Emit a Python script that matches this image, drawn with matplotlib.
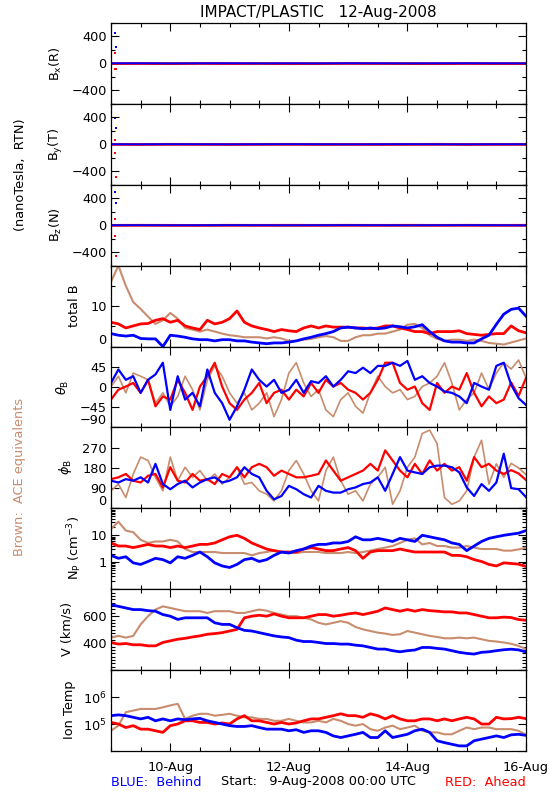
import numpy as np
import matplotlib.pyplot as plt
from matplotlib.ticker import MultipleLocator, FixedLocator, LogLocator, NullFormatter

BLUE = '#0000ff'
RED = '#ff0000'
BROWN = '#c88c6e'

# time axis: hours after 9-Aug-2008 00:00, 3-hourly samples
hours = np.arange(0, 169, 3)
hours12 = np.arange(0, 169, 12)

# B components (nT), flat near zero apart from a few spikes at the start
bx_blue = [2, 3, 1, 2, 3, 1, 2, 1, 3, 2, 1, 2, 3, 2, 1]
bx_red = [-2, -1, -3, 0, -2, -1, -3, -2, 0, -1, -2, -3, -1, -2, -2]
by_blue = [1, 0, 2, 1, 0, 1, 2, 1, 0, 1, 2, 1, 0, 1, 1]
by_red = [-1, -2, 0, -1, -2, -1, 0, -2, -1, -2, -1, 0, -2, -1, -1]
bz_blue = [0, 1, -1, 0, 1, 0, -1, 0, 1, 0, -1, 0, 1, 0, -2]
bz_red = [-2, -1, -2, -3, -1, -2, -1, -2, -1, -2, -1, -2, -1, -2, -1]
spike_t_blue = [1.6, 1.9]
spike_t_red = [1.5, 1.8, 2.1]
bx_spike_blue = [450, 250]
bx_spike_red = [150, -80, -80]
by_spike_blue = [390, 240]
by_spike_red = [65, -130, -480]
bz_spike_blue = [500, 330]
bz_spike_red = [85, -165, -460]

# total B (nT)
btot_blue = [3.2, 2.8, 2.6, 2.8, 2.0, 1.9, 1.9, 0.0, 2.8, 2.6,
             2.3, 1.9, 1.7, 1.7, 1.4, 1.7, 1.7, 1.4, 1.4, 1.1,
             0.9, 0.7, 0.9, 0.9, 1.1, 1.4, 1.9, 2.3, 2.8, 3.2,
             3.7, 4.6, 4.8, 4.6, 4.4, 4.6, 4.4, 4.6, 5.1, 4.9,
             4.6, 4.9, 5.4, 3.7, 2.3, 1.4, 1.1, 1.1, 0.9, 0.9,
             1.9, 2.8, 5.5, 8.0, 9.2, 9.5, 7.5]
btot_red = [6.0, 5.6, 4.6, 5.1, 5.6, 5.7, 6.5, 6.9, 6.0, 6.5,
            5.1, 4.6, 4.2, 6.5, 5.6, 6.0, 6.9, 8.8, 6.0, 5.1,
            4.6, 4.2, 3.7, 4.2, 3.9, 3.7, 4.6, 5.1, 4.6, 5.1,
            4.8, 4.8, 4.8, 4.6, 4.6, 4.4, 4.6, 5.1, 5.1, 4.6,
            4.2, 3.7, 3.7, 3.2, 3.7, 3.7, 3.7, 3.9, 3.2, 3.0,
            2.8, 3.0, 3.2, 3.2, 5.1, 3.9, 3.4]
btot_brown = [16, 20, 15, 11, 9.3, 7.4, 5.6, 6.5, 8.3, 6.9,
              4.6, 4.2, 3.7, 4.2, 3.7, 3.2, 2.8, 2.6, 2.3, 2.3,
              2.3, 2.0, 2.3, 2.0, 1.4, 1.4, 1.7, 1.9, 2.3, 2.6,
              2.3, 1.4, 1.4, 2.3, 2.8, 2.8, 3.2, 3.2, 3.7, 4.2,
              5.4, 5.6, 4.6, 2.8, 1.9, 1.4, 1.7, 1.7, 1.4, 1.7,
              1.4, 0.9, 0.7, 0.5, 1.0, 1.5, 2.0]

# theta_B (deg)
theta_blue = [9, 39, 16, 24, -13, 16, 28, 54, -51, 24,
              -28, -13, -43, 39, -13, -36, -73, -43, -6, 39,
              16, 1, 16, -13, -6, 16, -13, 13, 9, 24,
              1, 16, 35, 31, 43, 31, 47, 47, 54, 47,
              58, 16, 24, 9, 1, -10, -13, -21, -36, 9,
              1, -6, 47, 54, 5, -25, -40]
theta_red = [-28, -6, 1, 9, -13, 16, -43, -21, -28, 16,
             -13, -51, 1, 24, 54, 1, -36, -51, -28, -13,
             9, -36, -13, -6, -28, -6, -21, 9, -13, 16,
             1, 9, -6, -13, -28, -13, 16, 54, 54, 9,
             -6, 1, -36, -51, 9, -13, 1, -6, 31, -13,
             -43, -21, -36, -28, 10, -20, 20]
theta_brown = [1, 24, -13, 31, 24, 16, -36, -13, -43, -21,
               24, -6, -51, 16, 47, 24, -13, -36, -13, -51,
               -36, -13, -66, -28, 31, 54, 9, -21, -6, -51,
               -66, -28, -13, -43, -58, -13, 24, 1, -13, -6,
               -28, -21, 1, 9, 24, 54, 9, -51, -28, -13,
               31, -6, 31, 54, 40, 60, 20]

# phi_B (deg)
phi_blue = [123, 115, 130, 123, 138, 115, 198, 108, 85, 108,
            123, 93, 115, 130, 138, 115, 123, 138, 183, 153,
            138, 78, 40, 55, 100, 85, 63, 48, 100, 78,
            70, 70, 85, 93, 108, 115, 138, 78, 153, 228,
            168, 160, 153, 183, 190, 190, 183, 160, 93, 55,
            108, 78, 115, 243, 90, 85, 50]
phi_red = [130, 138, 153, 123, 115, 145, 153, 93, 183, 123,
           115, 153, 123, 130, 108, 153, 138, 183, 138, 183,
           198, 183, 145, 168, 153, 138, 138, 145, 153, 213,
           168, 123, 138, 153, 168, 198, 168, 258, 213, 168,
           138, 198, 153, 213, 168, 198, 168, 183, 123, 228,
           183, 198, 168, 153, 170, 155, 126]
phi_brown = [78, 108, 48, 153, 228, 213, 138, 78, 228, 123,
             183, 138, 168, 123, 153, 108, 138, 183, 108, 115,
             78, 63, 33, 78, 168, 213, 153, 78, 33, 168,
             228, 123, 63, 78, 33, 108, 138, 183, 18, 78,
             183, 228, 333, 348, 288, 48, 18, 33, 78, 228,
             303, 108, 198, 138, 200, 180, 150]

# proton density (cm^-3)
np_blue = [1.8, 1.4, 1.6, 0.95, 0.83, 1.07, 1.4, 1.25, 0.95, 1.6,
           1.4, 1.8, 2.4, 1.6, 0.95, 0.73, 0.64, 0.83, 1.25, 1.4,
           1.07, 1.25, 1.8, 2.4, 2.2, 2.7, 3.1, 4.0, 4.6, 4.6,
           5.2, 5.2, 5.9, 8.8, 6.8, 6.8, 7.7, 6.8, 5.9, 7.7,
           6.8, 5.9, 10, 8.8, 7.7, 6.8, 5.2, 4.6, 2.7, 4.0,
           5.9, 7.7, 8.8, 10, 11, 12, 15]
np_red = [5.2, 4.0, 4.0, 3.5, 4.0, 4.6, 4.0, 4.0, 3.5, 4.0,
          3.5, 4.0, 4.6, 4.6, 5.2, 6.8, 8.8, 10, 7.7, 5.2,
          4.0, 3.1, 2.7, 2.4, 2.4, 2.4, 3.1, 3.5, 3.1, 2.7,
          2.7, 3.1, 3.5, 2.7, 1.4, 2.4, 2.7, 2.7, 2.7, 3.1,
          2.7, 2.4, 2.4, 2.4, 2.4, 2.4, 1.8, 1.8, 1.6, 1.25,
          1.07, 0.83, 0.73, 0.95, 0.9, 0.85, 0.7]
np_brown = [17, 32, 15, 13, 6.8, 5.2, 5.9, 5.9, 6.8, 5.9,
            3.1, 2.4, 2.4, 2.4, 2.4, 2.2, 2.2, 2.2, 2.2, 1.8,
            2.2, 2.4, 2.7, 2.4, 2.2, 2.2, 2.4, 2.4, 2.4, 2.2,
            2.2, 2.2, 2.4, 2.2, 2.4, 2.7, 3.1, 3.5, 4.0, 5.2,
            6.8, 7.7, 4.6, 5.2, 4.0, 4.0, 3.5, 3.5, 4.0, 3.5,
            3.1, 3.1, 3.1, 2.7, 2.7, 3.0, 3.5]

# bulk speed (km/s)
v_blue = [685, 673, 661, 649, 649, 641, 637, 612, 600, 576,
          588, 588, 588, 588, 551, 539, 539, 515, 495, 490,
          478, 466, 454, 446, 441, 422, 412, 412, 405, 397,
          397, 393, 393, 385, 380, 368, 356, 356, 344, 336,
          344, 349, 368, 368, 361, 356, 344, 332, 324, 319,
          332, 336, 344, 351, 355, 350, 335]
v_red = [405, 393, 397, 388, 388, 380, 380, 405, 417, 429,
         436, 446, 454, 466, 471, 478, 490, 502, 588, 600,
         607, 600, 617, 600, 588, 588, 588, 600, 612, 612,
         600, 607, 617, 624, 612, 624, 637, 661, 649, 637,
         649, 637, 649, 641, 637, 632, 632, 624, 624, 612,
         600, 588, 588, 593, 590, 575, 570]
v_brown = [441, 454, 441, 454, 539, 600, 649, 673, 661, 649,
           637, 637, 637, 624, 637, 637, 637, 624, 624, 637,
           649, 641, 624, 612, 600, 600, 588, 576, 551, 539,
           551, 563, 551, 520, 502, 490, 478, 471, 461, 466,
           490, 478, 466, 454, 446, 436, 436, 441, 436, 441,
           429, 417, 412, 405, 395, 380, 355]

# ion temperature, log10(K)
temp_blue_log = [5.31, 5.34, 5.31, 5.25, 5.19, 5.25, 5.12, 5.19, 5.12, 5.19,
                 5.16, 5.19, 5.21, 5.12, 5.06, 5.0, 4.94, 4.91, 4.91, 4.94,
                 4.87, 4.81, 4.81, 4.81, 4.75, 4.79, 4.69, 4.75, 4.75, 4.69,
                 4.56, 4.5, 4.56, 4.62, 4.69, 4.5, 4.5, 4.75, 4.5, 4.56,
                 4.62, 4.75, 4.81, 4.69, 4.38, 4.31, 4.25, 4.19, 4.19, 4.38,
                 4.44, 4.5, 4.56, 4.5, 4.6, 4.62, 4.58]
temp_red_log = [5.06, 5.0, 4.87, 4.94, 4.81, 4.81, 4.75, 4.69, 4.94, 5.0,
                5.12, 5.12, 5.06, 5.06, 5.0, 5.04, 5.0, 5.19, 5.31, 5.12,
                5.12, 5.06, 5.0, 5.06, 5.0, 5.04, 5.12, 5.19, 5.19, 5.25,
                5.31, 5.38, 5.31, 5.31, 5.25, 5.38, 5.31, 5.19, 5.31, 5.19,
                5.12, 5.12, 5.19, 5.19, 5.12, 5.19, 5.12, 5.19, 5.25, 5.19,
                5.0, 5.0, 5.25, 5.19, 5.2, 5.25, 5.2]
temp_brown_log = [4.75, 4.94, 5.44, 5.5, 5.56, 5.56, 5.56, 5.62, 5.69, 5.75,
                  5.19, 5.31, 5.38, 5.38, 5.31, 5.34, 5.38, 5.31, 5.25, 5.25,
                  5.19, 5.19, 5.12, 5.12, 5.19, 5.12, 5.06, 5.06, 5.12, 5.06,
                  5.19, 5.12, 5.0, 4.94, 5.0, 4.81, 4.75, 4.87, 4.94, 4.81,
                  4.87, 4.94, 4.75, 4.69, 4.69, 4.62, 4.62, 4.75, 4.87, 4.81,
                  4.87, 4.87, 4.81, 4.81, 4.81, 4.75, 4.6]

date_ticks = [24, 72, 120, 168]
date_labels = ['10-Aug', '12-Aug', '14-Aug', '16-Aug']

W, H = 550, 800
fig, axes = plt.subplots(9, 1, sharex=True, figsize=(W / 100, H / 100), dpi=100)
fig.subplots_adjust(left=111 / W, right=526 / W, top=1 - 23 / H, bottom=1 - 751 / H, hspace=0)

FS = 9.3


def style(ax):
    ax.set_xlim(0, 168)
    ax.xaxis.set_major_locator(FixedLocator(date_ticks))
    ax.xaxis.set_minor_locator(MultipleLocator(12))
    ax.tick_params(which='both', direction='in', top=True, right=True, labelsize=FS, width=0.8)
    ax.tick_params(which='major', length=6)
    ax.tick_params(which='minor', length=3)
    ax.tick_params(axis='y', pad=3)
    ax.tick_params(axis='x', pad=7)
    for s in ax.spines.values():
        s.set_linewidth(0.9)


def trio(ax, t, brown, red, blue, lw=2.0):
    ax.plot(t, brown, color=BROWN, lw=lw * 0.75)
    ax.plot(t, red, color=RED, lw=lw)
    ax.plot(t, blue, color=BLUE, lw=lw)


def bottom_label_up(ax):
    # the lowest tick label sits just above the bottom edge
    ax.figure.canvas.draw()
    ax.get_yticklabels()[0].set_verticalalignment('bottom')


# --- B components ---
comps = [(bx_blue, bx_red, bx_spike_blue, bx_spike_red),
         (by_blue, by_red, by_spike_blue, by_spike_red),
         (bz_blue, bz_red, bz_spike_blue, bz_spike_red)]
for ax, (cb, cr, sb, sr) in zip(axes[:3], comps):
    style(ax)
    ax.plot(hours12, cr, color=RED, lw=2.0)
    ax.plot(hours12, cb, color=BLUE, lw=1.4)
    ax.scatter(spike_t_red, sr, color=RED, s=2, marker='s', lw=0)
    ax.scatter(spike_t_blue, sb, color=BLUE, s=2, marker='s', lw=0)
    ax.set_ylim(-600, 600)
    ax.set_yticks([-400, 0, 400], ['\u2212400', '0', '400'])
    ax.yaxis.set_minor_locator(MultipleLocator(200))

# --- total B ---
ax = axes[3]
style(ax)
trio(ax, hours, btot_brown, btot_red, btot_blue)
ax.set_ylim(0, 20)
ax.set_yticks([0, 10, 20], ['0', '10', ''])
ax.yaxis.set_minor_locator(MultipleLocator(5))

# --- theta ---
ax = axes[4]
style(ax)
trio(ax, hours, theta_brown, theta_red, theta_blue, lw=1.6)
ax.set_ylim(-90, 90)
ax.set_yticks([-90, -45, 0, 45, 90], ['\u221290', '\u221245', '0', '45', ''])

# --- phi ---
ax = axes[5]
style(ax)
trio(ax, hours, phi_brown, phi_red, phi_blue, lw=1.6)
ax.set_ylim(0, 360)
ax.set_yticks([0, 90, 180, 270, 360], ['0', '90', '180', '270', ''])

# --- density ---
ax = axes[6]
style(ax)
trio(ax, hours, np_brown, np_red, np_blue)
ax.set_yscale('log')
ax.set_ylim(0.1, 100)
ax.set_yticks([0.1, 1, 10, 100], ['', '1', '10', ''])
ax.yaxis.set_minor_locator(LogLocator(base=10, subs=np.arange(2, 10)))
ax.yaxis.set_minor_formatter(NullFormatter())

# --- speed ---
ax = axes[7]
style(ax)
trio(ax, hours, v_brown, v_red, v_blue)
ax.set_ylim(200, 800)
ax.set_yticks([200, 400, 600, 800], ['', '400', '600', ''])
ax.yaxis.set_minor_locator(MultipleLocator(25))

# --- temperature ---
ax = axes[8]
style(ax)
trio(ax, hours, 10 ** np.array(temp_brown_log), 10 ** np.array(temp_red_log),
     10 ** np.array(temp_blue_log))
ax.set_yscale('log')
ax.set_ylim(1e4, 1e7)
ax.set_yticks([1e4, 1e5, 1e6, 1e7], ['', '10$^\\mathregular{5}$', '10$^\\mathregular{6}$', ''])
ax.yaxis.set_minor_formatter(NullFormatter())
ax.set_xticks(date_ticks, date_labels)

for a in (axes[3], axes[4], axes[5]):
    bottom_label_up(a)

# --- labels ---
def ylab(x, y, s, **kw):
    fig.text(x / W, 1 - y / H, s, rotation=90, ha='center', va='center', fontsize=FS, **kw)


ylab(56, 64, 'B$_\\mathregular{x}$(R)')
ylab(56, 144, 'B$_\\mathregular{y}$(T)')
ylab(56, 225, 'B$_\\mathregular{z}$(N)')
ylab(74, 306, 'total B')
ylab(63, 387, '$\\theta_\\mathregular{B}$')
ylab(65, 467, '$\\phi_\\mathregular{B}$')
ylab(75, 548, 'N$_\\mathregular{P}$ (cm$^\\mathregular{-3}$)')
ylab(67, 629, 'V (km/s)')
ylab(70, 710, 'Ion Temp')
ylab(21, 175, '(nanoTesla,  RTN)')
ylab(20, 477, 'Brown:  ACE equivalents', color=BROWN)

fig.text(318.5 / W, 1 - 12 / H, 'IMPACT/PLASTIC   12-Aug-2008', ha='center', va='center', fontsize=11)
fig.text(111 / W, 1 - 783 / H, 'BLUE:  Behind', color=BLUE, ha='left', va='center', fontsize=FS)
fig.text(318.5 / W, 1 - 782 / H, 'Start:   9-Aug-2008 00:00 UTC', ha='center', va='center', fontsize=FS)
fig.text(526 / W, 1 - 783 / H, 'RED:  Ahead', color=RED, ha='right', va='center', fontsize=FS)

fig.savefig('out.png', dpi=100)
